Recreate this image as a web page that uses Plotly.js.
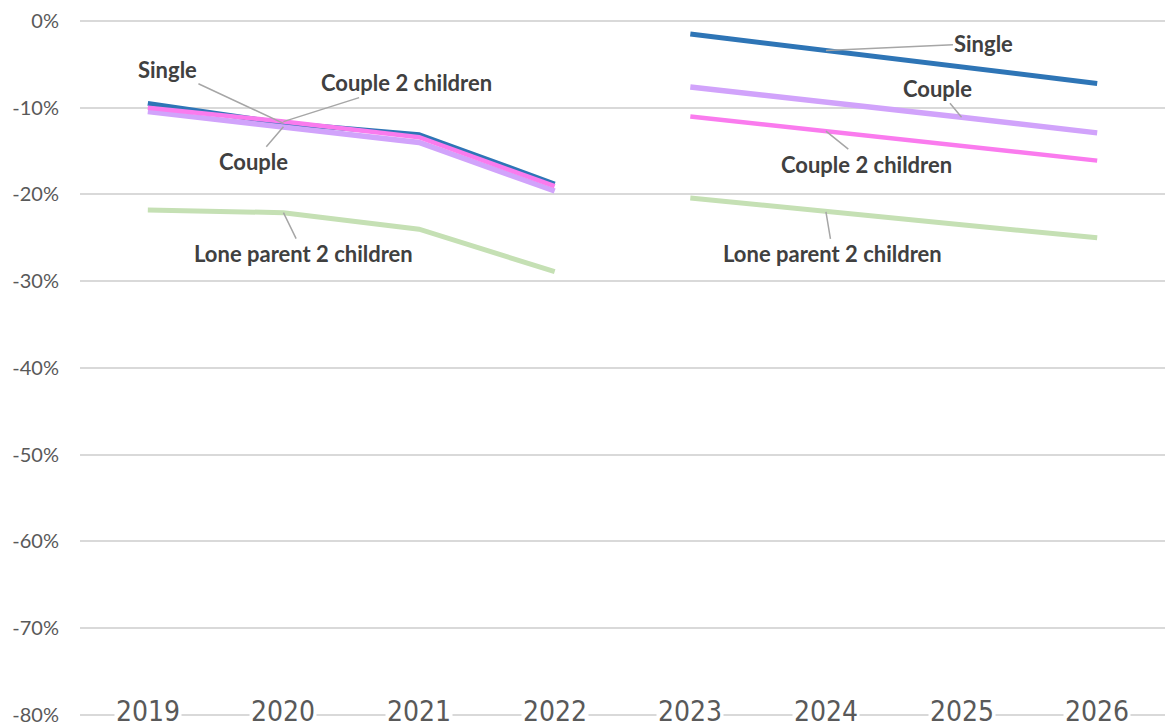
<!DOCTYPE html>
<html>
<head>
<meta charset="utf-8">
<script src="https://cdn.plot.ly/plotly-3.0.1.min.js"></script>
<style>
  html, body { margin: 0; padding: 0; background: #fff; }
  #chart { width: 1168px; height: 728px; }
</style>
</head>
<body>
<div id="chart"></div>
<script>
// Year categories
const years = ['2019', '2020', '2021', '2022', '2023', '2024', '2025', '2026'];
const yearsPast = ['2019', '2020', '2021', '2022'];
const yearsFuture = ['2023', '2024', '2025', '2026'];

// Change by household type, in percent (2019-2022)
const singlePast = [-9.5, -11.8, -13.1, -18.8];
const couplePast = [-10.45, -12.2, -14.0, -19.6];
const couple2cPast = [-10.0, -11.6, -13.4, -19.05];
const lone2cPast = [-21.8, -22.1, -24.0, -28.9];

// Change by household type, in percent (2023-2026)
const singleFuture = [-1.5, -3.4, -5.3, -7.2];
const coupleFuture = [-7.6, -9.3, -11.1, -12.9];
const couple2cFuture = [-11.0, -12.7, -14.4, -16.1];
const lone2cFuture = [-20.4, -22.0, -23.5, -25.0];

const yTicks = [0, -10, -20, -30, -40, -50, -60, -70, -80];

const series = [
  { name: 'Single', past: singlePast, future: singleFuture, color: '#2E75B6', width: 5 },
  { name: 'Couple', past: couplePast, future: coupleFuture, color: '#D1A3FB', width: 5.5 },
  { name: 'Couple 2 children', past: couple2cPast, future: couple2cFuture, color: '#FA7BEE', width: 4.5 },
  { name: 'Lone parent 2 children', past: lone2cPast, future: lone2cFuture, color: '#C5E0B4', width: 5 }
];

const traces = [];
series.forEach(s => {
  traces.push({ x: yearsPast, y: s.past, type: 'scatter', mode: 'lines', name: s.name,
    line: { color: s.color, width: s.width }, hoverinfo: 'skip', showlegend: false });
  traces.push({ x: yearsFuture, y: s.future, type: 'scatter', mode: 'lines', name: s.name,
    line: { color: s.color, width: s.width }, hoverinfo: 'skip', showlegend: false });
});

// Category axes take annotation positions as category indices
const catIndex = yr => years.indexOf(yr);

// Series labels with leader lines: [series index, period, point index, dx, dy]
const labelSpecs = [
  [0, 'past', 1, -116, -54],
  [2, 'past', 1, 123, -39],
  [1, 'past', 1, -30, 35],
  [3, 'past', 1, 20, 41],
  [0, 'future', 1, 158, -7],
  [1, 'future', 2, -24, -29],
  [2, 'future', 1, 41, 33],
  [3, 'future', 1, 7, 42]
];

const annotations = labelSpecs.map(([si, period, i, dx, dy]) => {
  const s = series[si];
  const xs = period === 'past' ? yearsPast : yearsFuture;
  const ys = period === 'past' ? s.past : s.future;
  return {
    x: catIndex(xs[i]), y: ys[i], xref: 'x', yref: 'y',
    text: '<b>' + s.name + '</b>',
    showarrow: true, arrowhead: 0, arrowwidth: 1.5, arrowcolor: '#A6A6A6',
    ax: dx, ay: dy, standoff: 0,
    font: { family: 'Lato, "Open Sans", sans-serif', size: 22, color: '#404040' }
  };
});

// Year labels sitting on the bottom gridline
years.forEach(yr => {
  annotations.push({
    x: catIndex(yr), y: -80, xref: 'x', yref: 'y', text: yr, showarrow: false,
    yanchor: 'middle', yshift: 3, bgcolor: '#ffffff', borderpad: 1,
    font: { family: '"DejaVu Sans Condensed", "Liberation Sans Narrow", sans-serif', size: 28, color: '#595959' }
  });
});

const layout = {
  width: 1168, height: 728,
  margin: { l: 80, r: 3, t: 21, b: 11 },
  paper_bgcolor: '#ffffff', plot_bgcolor: '#ffffff',
  showlegend: false,
  hovermode: false,
  xaxis: {
    type: 'category', categoryarray: years, categoryorder: 'array',
    range: [-0.5, 7.5], showgrid: false, zeroline: false, showline: false,
    showticklabels: false, ticks: ''
  },
  yaxis: {
    range: [-80.25, 0], tickvals: yTicks, ticktext: yTicks.map(v => v + '%'),
    showgrid: true, gridcolor: '#D9D9D9', gridwidth: 2,
    zeroline: true, zerolinecolor: '#D9D9D9', zerolinewidth: 2,
    showline: false, ticks: '', ticklabelstandoff: 20,
    tickfont: { family: 'Lato, "Open Sans", sans-serif', size: 20, color: '#595959' }
  },
  annotations: annotations
};

Plotly.newPlot('chart', traces, layout, { staticPlot: true, displayModeBar: false });
</script>
</body>
</html>
